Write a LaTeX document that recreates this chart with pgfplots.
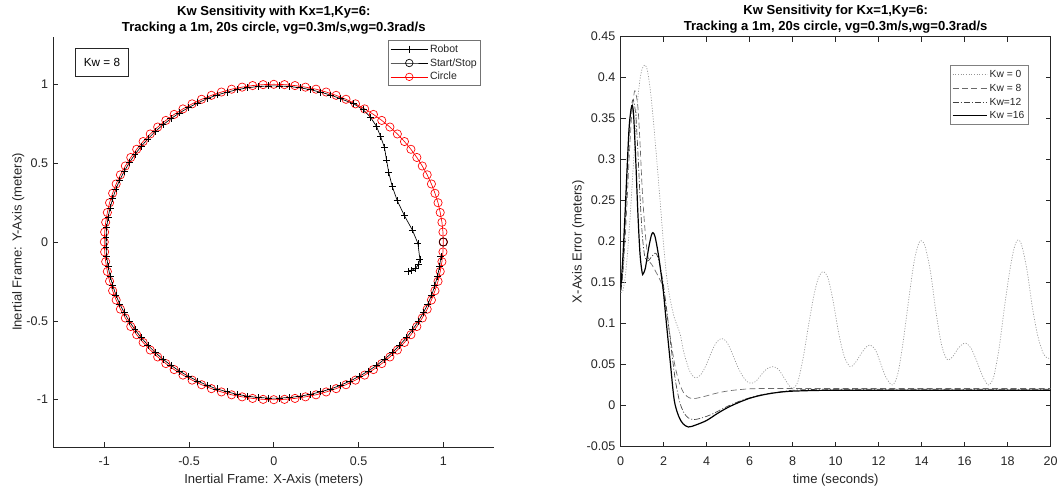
\documentclass[border=0pt]{standalone}
\usepackage{pgfplots}
\pgfplotsset{compat=1.18}
\usepackage{fontspec}
\setmainfont{Liberation Sans}
\definecolor{axgray}{RGB}{38,38,38}
\definecolor{kw0}{RGB}{150,150,150}
\definecolor{kw8}{RGB}{105,105,105}
\definecolor{kw12}{RGB}{65,65,65}
\begin{document}
\begin{tikzpicture}
\useasboundingbox (0,0) rectangle (795pt,366pt);
\pgfplotsset{
  every axis/.append style={
    scale only axis,
    axis line style={axgray, line width=0.5pt},
    tick style={axgray, line width=0.5pt},
    tick align=inside, major tick length=3.75pt,
    ticklabel style={font=\fontsize{9.4}{11}\selectfont, text=axgray},
    label style={font=\fontsize{9.8}{12}\selectfont, text=axgray},
    title style={font=\bfseries\fontsize{9.8}{12}\selectfont, align=center, at={(axis description cs:0.5,1)}, anchor=south, yshift=-7.25pt},
    xlabel style={at={(axis description cs:0.5,0)}, anchor=center, yshift=-25pt},
    xticklabel style={anchor=center, yshift=-11pt},
    yticklabel style={anchor=east, xshift=-0.5pt},
  }
}
% ---------------- left: trajectory ----------------
\begin{axis}[
  at={(40.1pt,30.75pt)}, anchor=south west,
  width=330.5pt, height=307.5pt,
  xmin=-1.3, xmax=1.3, ymin=-1.3, ymax=1.3,
  axis lines*=left,
  xtick={-1,-0.5,0,0.5,1}, xticklabels={-1,-0.5,0,0.5,1},
  ytick={-1,-0.5,0,0.5,1}, yticklabels={-1,-0.5,0,0.5,1},
  xlabel={Inertial Frame: X-Axis (meters)},
  ylabel={Inertial Frame: Y-Axis (meters)},
  ylabel style={at={(axis description cs:-0.0799,0.5)}, anchor=center},
  title={Kw Sensitivity with Kx=1,Ky=6:\\Tracking a 1m, 20s circle, vg=0.3m/s,wg=0.3rad/s},
  legend image code/.code={\draw[mark repeat=2,mark phase=2,#1] plot coordinates {(0pt,0pt) (14pt,0pt) (28pt,0pt)};},
  legend style={at={(0.970,0.993)}, anchor=north east, draw=black!55, fill=white, line width=0.5pt,
    font=\fontsize{7.9}{9}\selectfont, text=axgray, inner sep=1.5pt, row sep=0pt,
    cells={anchor=west}, nodes={inner sep=1.3pt, text height=6.2pt, text depth=1.6pt}},
]
\addplot[red, line width=0.5pt, mark=o, mark size=3.1pt, forget plot] coordinates {
(1.000,0.000) (0.998,0.063) (0.992,0.125) (0.982,0.187) (0.969,0.249) (0.951,0.309)
(0.930,0.368) (0.905,0.426) (0.876,0.482) (0.844,0.536) (0.809,0.588) (0.771,0.637)
(0.729,0.685) (0.685,0.729) (0.637,0.771) (0.588,0.809) (0.536,0.844) (0.482,0.876)
(0.426,0.905) (0.368,0.930) (0.309,0.951) (0.249,0.969) (0.187,0.982) (0.125,0.992)
(0.063,0.998) (0.000,1.000) (-0.063,0.998) (-0.125,0.992) (-0.187,0.982) (-0.249,0.969)
(-0.309,0.951) (-0.368,0.930) (-0.426,0.905) (-0.482,0.876) (-0.536,0.844) (-0.588,0.809)
(-0.637,0.771) (-0.685,0.729) (-0.729,0.685) (-0.771,0.637) (-0.809,0.588) (-0.844,0.536)
(-0.876,0.482) (-0.905,0.426) (-0.930,0.368) (-0.951,0.309) (-0.969,0.249) (-0.982,0.187)
(-0.992,0.125) (-0.998,0.063) (-1.000,0.000) (-0.998,-0.063) (-0.992,-0.125) (-0.982,-0.187)
(-0.969,-0.249) (-0.951,-0.309) (-0.930,-0.368) (-0.905,-0.426) (-0.876,-0.482) (-0.844,-0.536)
(-0.809,-0.588) (-0.771,-0.637) (-0.729,-0.685) (-0.685,-0.729) (-0.637,-0.771) (-0.588,-0.809)
(-0.536,-0.844) (-0.482,-0.876) (-0.426,-0.905) (-0.368,-0.930) (-0.309,-0.951) (-0.249,-0.969)
(-0.187,-0.982) (-0.125,-0.992) (-0.063,-0.998) (0.000,-1.000) (0.063,-0.998) (0.125,-0.992)
(0.187,-0.982) (0.249,-0.969) (0.309,-0.951) (0.368,-0.930) (0.426,-0.905) (0.482,-0.876)
(0.536,-0.844) (0.588,-0.809) (0.637,-0.771) (0.685,-0.729) (0.729,-0.685) (0.771,-0.637)
(0.809,-0.588) (0.844,-0.536) (0.876,-0.482) (0.905,-0.426) (0.930,-0.368) (0.951,-0.309)
(0.969,-0.249) (0.982,-0.187) (0.992,-0.125) (0.998,-0.063) (1.000,0.000)
};
\addplot[black, line width=0.5pt, mark=+, mark size=2.6pt, forget plot] coordinates {
(0.791,-0.188) (0.811,-0.182) (0.837,-0.166) (0.855,-0.140) (0.862,-0.109) (0.850,-0.008)
(0.817,0.077) (0.771,0.166) (0.728,0.263) (0.699,0.352) (0.678,0.441) (0.665,0.521)
(0.653,0.599) (0.630,0.669) (0.606,0.733) (0.570,0.792) (0.527,0.839) (0.471,0.877)
(0.393,0.909) (0.336,0.932) (0.276,0.950) (0.216,0.966) (0.154,0.978) (0.093,0.986)
(0.031,0.990) (-0.031,0.990) (-0.093,0.986) (-0.154,0.978) (-0.216,0.966) (-0.276,0.950)
(-0.336,0.932) (-0.393,0.909) (-0.449,0.882) (-0.504,0.852) (-0.556,0.819) (-0.607,0.782)
(-0.654,0.743) (-0.700,0.700) (-0.743,0.654) (-0.782,0.607) (-0.819,0.556) (-0.852,0.504)
(-0.882,0.449) (-0.909,0.393) (-0.932,0.336) (-0.950,0.276) (-0.966,0.216) (-0.978,0.154)
(-0.986,0.093) (-0.990,0.031) (-0.990,-0.031) (-0.986,-0.093) (-0.978,-0.154) (-0.966,-0.216)
(-0.950,-0.276) (-0.932,-0.336) (-0.909,-0.393) (-0.882,-0.449) (-0.852,-0.504) (-0.819,-0.556)
(-0.782,-0.607) (-0.743,-0.654) (-0.700,-0.700) (-0.654,-0.743) (-0.607,-0.782) (-0.556,-0.819)
(-0.504,-0.852) (-0.449,-0.882) (-0.393,-0.909) (-0.336,-0.932) (-0.276,-0.950) (-0.216,-0.966)
(-0.154,-0.978) (-0.093,-0.986) (-0.031,-0.990) (0.031,-0.990) (0.093,-0.986) (0.154,-0.978)
(0.216,-0.966) (0.276,-0.950) (0.336,-0.932) (0.393,-0.909) (0.449,-0.882) (0.504,-0.852)
(0.556,-0.819) (0.607,-0.782) (0.654,-0.743) (0.700,-0.700) (0.743,-0.654) (0.782,-0.607)
(0.819,-0.556) (0.852,-0.504) (0.882,-0.449) (0.909,-0.393) (0.932,-0.336) (0.950,-0.276)
(0.966,-0.216) (0.978,-0.154) (0.986,-0.093)
};
\addplot[black, line width=0.5pt, mark=o, mark size=3.1pt, forget plot] coordinates {(1,0)};
\addlegendimage{black, line width=0.5pt, mark=+, mark size=2.6pt}
\addlegendentry{Robot}
\addlegendimage{black, line width=0.5pt, mark=o, mark size=2.8pt}
\addlegendentry{Start/Stop}
\addlegendimage{red, line width=0.5pt, mark=o, mark size=2.8pt}
\addlegendentry{Circle}
\node[draw=axgray, line width=0.5pt, fill=white, minimum width=39.4pt, minimum height=20.8pt,
  inner sep=0pt, font=\fontsize{8.8}{10}\selectfont, text=black] at (rel axis cs:0.1100,0.9383) {Kw = 8};
\end{axis}
% ---------------- right: error ----------------
\begin{axis}[
  at={(465.5pt,31pt)}, anchor=south west,
  width=322.5pt, height=307.5pt,
  xmin=0, xmax=20, ymin=-0.05, ymax=0.45,
  xtick={0,2,4,6,8,10,12,14,16,18,20}, xticklabels={0,2,4,6,8,10,12,14,16,18,20},
  ytick={-0.05,0,0.05,0.1,0.15,0.2,0.25,0.3,0.35,0.4,0.45},
  yticklabels={-0.05,0,0.05,0.1,0.15,0.2,0.25,0.3,0.35,0.4,0.45},
  xlabel={time (seconds)},
  ylabel={X-Axis Error (meters)},
  ylabel style={at={(axis description cs:-0.0986,0.5)}, anchor=center},
  title={Kw Sensitivity for Kx=1,Ky=6:\\Tracking a 1m, 20s circle, vg=0.3m/s,wg=0.3rad/s},
  legend image code/.code={\draw[#1] (0pt,0pt) -- (26pt,0pt);},
  legend style={at={(0.948,0.931)}, anchor=north east, draw=black!50, fill=white, line width=0.5pt,
    font=\fontsize{7.7}{9}\selectfont, text=axgray, inner sep=1.5pt, row sep=0pt,
    cells={anchor=west}, nodes={inner sep=1.3pt, text height=6.2pt, text depth=1.6pt}},
]
\addplot[kw0, line width=0.5pt, dash pattern=on 0.8pt off 1.2pt, smooth] coordinates {
(0,0.138) (0.1,0.140) (0.2,0.155) (0.3,0.180) (0.4,0.215) (0.5,0.255) (0.6,0.298)
(0.7,0.340) (0.8,0.375) (0.9,0.398) (1.0,0.411) (1.13,0.4155) (1.25,0.408) (1.4,0.380)
(1.6,0.324) (1.83,0.251) (2.0,0.195) (2.14,0.157) (2.3,0.130) (2.5,0.107) (2.76,0.088)
(2.91,0.068) (3.1,0.050) (3.25,0.040) (3.46,0.034) (3.7,0.037) (3.95,0.048) (4.2,0.064)
(4.45,0.077) (4.7,0.082) (4.95,0.077) (5.2,0.063) (5.45,0.047) (5.7,0.035) (5.9,0.029)
(6.09,0.0273) (6.3,0.030) (6.55,0.038) (6.8,0.045) (7.1,0.0476) (7.35,0.044) (7.6,0.034)
(7.85,0.024) (8.03,0.0212) (8.25,0.030) (8.5,0.060) (8.75,0.100) (9.0,0.136) (9.2,0.156)
(9.42,0.1634) (9.65,0.155) (9.9,0.125) (10.15,0.087) (10.4,0.060) (10.67,0.0476) (10.9,0.052)
(11.15,0.062) (11.4,0.071) (11.6,0.074) (11.85,0.068) (12.1,0.051) (12.35,0.034) (12.65,0.0252)
(12.9,0.040) (13.15,0.080) (13.4,0.130) (13.65,0.176) (13.85,0.197) (13.97,0.2012) (14.15,0.195)
(14.4,0.165) (14.65,0.117) (14.9,0.077) (15.1,0.060) (15.24,0.0557) (15.45,0.060) (15.7,0.070)
(15.9,0.075) (16.06,0.0761) (16.3,0.070) (16.55,0.055) (16.8,0.038) (17.0,0.028) (17.13,0.0252)
(17.35,0.035) (17.6,0.070) (17.85,0.120) (18.1,0.165) (18.3,0.192) (18.47,0.2021) (18.65,0.196)
(18.9,0.165) (19.15,0.120) (19.4,0.085) (19.65,0.064) (19.85,0.058) (20,0.0578)
};
\addlegendentry{Kw = 0}
\addplot[kw8, line width=0.5pt, dash pattern=on 4.5pt off 2.5pt, smooth] coordinates {
(0,0.140) (0.1,0.160) (0.2,0.200) (0.3,0.250) (0.4,0.305) (0.5,0.350) (0.6,0.376)
(0.67,0.384) (0.8,0.365) (0.9,0.320) (1.0,0.265) (1.1,0.225) (1.2,0.195) (1.3,0.178)
(1.45,0.172) (1.6,0.165) (1.8,0.155) (1.95,0.145) (2.1,0.120) (2.3,0.085) (2.5,0.052)
(2.7,0.030) (2.9,0.017) (3.1,0.011) (3.35,0.0085) (3.7,0.010) (4.0,0.012) (4.5,0.0155)
(5.0,0.018) (5.5,0.0195) (6.0,0.0205) (7.0,0.021) (10,0.021) (15,0.021) (20,0.021)
};
\addlegendentry{Kw = 8}
\addplot[kw12, line width=0.5pt, dash pattern=on 4.5pt off 1.5pt on 0.8pt off 1.5pt, smooth] coordinates {
(0,0.140) (0.1,0.165) (0.2,0.215) (0.3,0.280) (0.4,0.335) (0.5,0.365) (0.59,0.373)
(0.7,0.355) (0.8,0.310) (0.9,0.255) (1.0,0.210) (1.1,0.185) (1.2,0.177) (1.3,0.177)
(1.45,0.182) (1.6,0.186) (1.7,0.183) (1.85,0.168) (2.0,0.145) (2.15,0.115) (2.35,0.070)
(2.55,0.030) (2.75,0.004) (2.95,-0.009) (3.15,-0.015) (3.4,-0.017) (3.7,-0.0155) (4.0,-0.013)
(4.3,-0.0097) (4.8,-0.003) (5.2,0.002) (5.8,0.008) (6.5,0.013) (7.2,0.016) (8.0,0.0188)
(9.0,0.0198) (10,0.020) (15,0.020) (20,0.020)
};
\addlegendentry{Kw=12}
\addplot[black, line width=0.9pt, smooth] coordinates {
(0,0.141) (0.1,0.180) (0.2,0.232) (0.3,0.290) (0.4,0.342) (0.52,0.366) (0.6,0.355)
(0.7,0.300) (0.8,0.235) (0.9,0.185) (1.0,0.162) (1.05,0.161) (1.15,0.168) (1.3,0.192)
(1.42,0.207) (1.5,0.211) (1.6,0.206) (1.75,0.185) (1.9,0.157) (1.98,0.141) (2.11,0.105)
(2.3,0.055) (2.49,0.007) (2.7,-0.013) (2.9,-0.022) (3.15,-0.026) (3.5,-0.0235) (4.0,-0.018)
(4.5,-0.0095) (5.0,-0.002) (5.5,0.004) (6.0,0.009) (6.5,0.0125) (7.0,0.015) (7.5,0.0167)
(8.0,0.0177) (9.0,0.0185) (10,0.0187) (15,0.0187) (20,0.0187)
};
\addlegendentry{Kw =16}
\end{axis}
\end{tikzpicture}
\end{document}
